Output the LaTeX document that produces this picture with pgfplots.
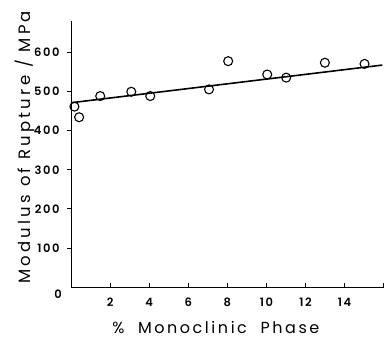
\documentclass[border=0pt]{standalone}
\usepackage{pgfplots}
\pgfplotsset{compat=1.18}
\usepackage{fontspec}
\setmainfont{Poppins}
\newfontfamily\xlabfont[LetterSpace=16]{Poppins}
\newfontfamily\ylabfont[LetterSpace=20]{Poppins}
\newfontfamily\tickfont[LetterSpace=14]{Poppins}[BoldFont=* SemiBold]
\begin{document}
\begin{tikzpicture}[x=1pt,y=1pt]
\begin{axis}[
  scale only axis,
  width=313pt, height=267pt,
  xmin=0, xmax=16, ymin=0, ymax=680,
  axis lines=left,
  axis line style={-, line width=1.2pt},
  clip=false,
  xtick={2,4,...,16},
  xticklabels={2,4,6,8,10,12,14,},
  ytick={100,200,...,600},
  x tick style={line width=1pt, black},
  y tick style={line width=1pt, black},
  xtick align=inside,
  ytick align=outside,
  major tick length=4pt,
  /pgf/number format/assume math mode=true,
  tick label style={font=\tickfont\fontsize{11.5}{12}\selectfont\bfseries},
  xticklabel style={yshift=-7pt},
  yticklabel style={xshift=-4pt},
  xlabel={\%\ \ Monoclinic\ \ Phase},
  ylabel={Modulus of Rupture / MPa},
  xlabel style={font=\xlabfont\fontsize{16}{18}\selectfont, inner sep=0pt, at={(axis description cs:0.463,-0.152)}, anchor=center},
  ylabel style={font=\ylabfont\fontsize{16.5}{18}\selectfont, inner sep=0pt, at={(axis description cs:-0.147,0.525)}, anchor=center},
]
\addplot[only marks, mark=o, mark size=4.5pt, mark options={line width=1.1pt, fill=white}, black] coordinates {
(0.17,461) (0.41,434) (1.49,488) (3.08,499) (4.05,488) (7.06,505) (8.04,577) (10.04,543) (11.01,535) (12.99,573) (15.02,570)
};
\addplot[line width=1.6pt, black] coordinates {(0,471) (15.93,567)};
\node[font=\tickfont\fontsize{11.5}{12}\selectfont\bfseries] at (axis cs:0,0) [xshift=-13pt, yshift=-7pt] {0};
\path[draw=none] (axis cs:-3.64,733) rectangle (axis cs:16.15,-132);
\end{axis}
\end{tikzpicture}
\end{document}
